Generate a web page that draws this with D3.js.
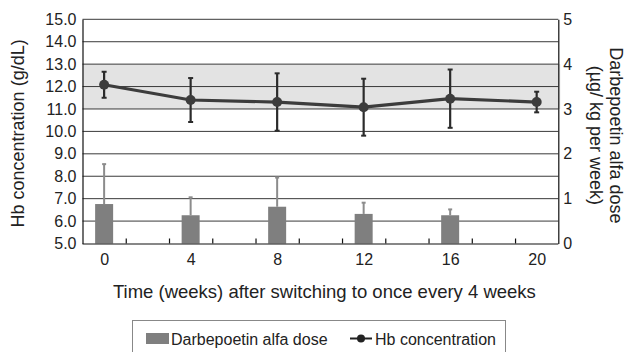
<!DOCTYPE html>
<html>
<head>
<meta charset="utf-8">
<script src="https://cdn.jsdelivr.net/npm/d3@7"></script>
<style>
  html, body { margin: 0; padding: 0; background: #fff; }
  svg { display: block; font-family: "Liberation Sans", Arial, Helvetica, sans-serif; }
</style>
</head>
<body>
<svg id="chart" width="625" height="352"></svg>
<script>
// Study weeks after switching to dosing once every 4 weeks
const weeks = [0, 4, 8, 12, 16, 20];
const hbMean = [12.08, 11.40, 11.31, 11.08, 11.46, 11.31];   // g/dL
const hbSD   = [0.58, 0.98, 1.28, 1.27, 1.30, 0.46];
const doseWeeks = [0, 4, 8, 12, 16];
const doseMean  = [0.88, 0.63, 0.82, 0.66, 0.63];           // µg/kg per week
const doseSD    = [0.89, 0.40, 0.65, 0.25, 0.13];
const hbTicks   = [5, 6, 7, 8, 9, 10, 11, 12, 13, 14, 15];
const doseTicks = [0, 1, 2, 3, 4, 5];
const weekLabels = [0, 4, 8, 12, 16, 20];
const targetRange = [11, 13];

const svg = d3.select("#chart");
const plot = { left: 82.5, right: 558.3, top: 19.3, bottom: 243.5 };

const x = d3.scaleLinear().domain([-1, 21]).range([plot.left, plot.right]);
const yHb = d3.scaleLinear().domain([5, 15]).range([plot.bottom, plot.top]);
const yDose = d3.scaleLinear().domain([0, 5]).range([plot.bottom, plot.top]);

// target Hb band
svg.append("rect")
  .attr("x", plot.left).attr("width", plot.right - plot.left + 2)
  .attr("y", yHb(targetRange[1])).attr("height", yHb(targetRange[0]) - yHb(targetRange[1]))
  .attr("fill", "#e3e3e3");

// horizontal gridlines
svg.append("g").selectAll("line")
  .data(hbTicks.filter(d => d > 5))
  .join("line")
  .attr("x1", plot.left).attr("x2", plot.right)
  .attr("y1", d => yHb(d)).attr("y2", d => yHb(d))
  .attr("stroke", "#3a3a3a").attr("stroke-width", 1);

// dose bars with upper SD whiskers
const doseData = doseWeeks.map((w, i) => ({ w, m: doseMean[i], sd: doseSD[i] }));
const barW = 18;
const gDose = svg.append("g");
gDose.selectAll("line.err")
  .data(doseData).join("line").attr("class", "err")
  .attr("x1", d => x(d.w)).attr("x2", d => x(d.w))
  .attr("y1", d => yDose(d.m)).attr("y2", d => yDose(d.m + d.sd))
  .attr("stroke", "#8c8c8c").attr("stroke-width", 2);
gDose.selectAll("line.cap")
  .data(doseData).join("line").attr("class", "cap")
  .attr("x1", d => x(d.w) - 2).attr("x2", d => x(d.w) + 2)
  .attr("y1", d => yDose(d.m + d.sd)).attr("y2", d => yDose(d.m + d.sd))
  .attr("stroke", "#8c8c8c").attr("stroke-width", 2);
gDose.selectAll("rect")
  .data(doseData).join("rect")
  .attr("x", d => x(d.w) - barW / 2).attr("width", barW)
  .attr("y", d => yDose(d.m)).attr("height", d => yDose(0) - yDose(d.m))
  .attr("fill", "#7f7f7f");

// axes
const axisStyle = g => {
  g.selectAll(".domain").attr("stroke", "#111").attr("stroke-width", 1.2);
  g.selectAll(".tick line").attr("stroke", "#111").attr("stroke-width", 1.2);
  g.selectAll("text").attr("fill", "#222").attr("font-size", 16)
    .attr("font-family", "'Liberation Sans', Arial, sans-serif");
};

svg.append("g")
  .attr("transform", `translate(${plot.left},0)`)
  .call(d3.axisLeft(yHb).tickValues(hbTicks).tickFormat(d3.format(".1f")).tickSize(0).tickPadding(6))
  .call(axisStyle);

svg.append("g")
  .attr("transform", `translate(${plot.right},0)`)
  .call(d3.axisRight(yDose).tickValues(doseTicks).tickFormat(d3.format("d")).tickSize(0).tickPadding(5))
  .call(axisStyle);

// inner minor ticks along the time axis
svg.append("g")
  .attr("transform", `translate(0,${plot.bottom})`)
  .call(d3.axisBottom(x).tickValues(d3.range(1, 20, 2)).tickSize(-5).tickFormat(""))
  .call(axisStyle)
  .call(g => g.select(".domain").attr("d", `M${plot.left},0.5H${plot.right}`));

// week labels
svg.append("g")
  .attr("transform", `translate(0,${plot.bottom})`)
  .call(d3.axisBottom(x).tickValues(weekLabels).tickSize(0).tickPadding(10).tickFormat(d3.format("d")))
  .call(axisStyle)
  .call(g => g.select(".domain").remove());

// Hb line with SD bars
const hbData = weeks.map((w, i) => ({ w, m: hbMean[i], sd: hbSD[i] }));
const gHb = svg.append("g");
gHb.selectAll("line.err")
  .data(hbData).join("line").attr("class", "err")
  .attr("x1", d => x(d.w)).attr("x2", d => x(d.w))
  .attr("y1", d => yHb(d.m - d.sd)).attr("y2", d => yHb(d.m + d.sd))
  .attr("stroke", "#2b2b2b").attr("stroke-width", 2.2);
[-1, 1].forEach(s => {
  gHb.selectAll(null)
    .data(hbData).join("line")
    .attr("x1", d => x(d.w) - 2.5).attr("x2", d => x(d.w) + 2.5)
    .attr("y1", d => yHb(d.m + s * d.sd)).attr("y2", d => yHb(d.m + s * d.sd))
    .attr("stroke", "#2b2b2b").attr("stroke-width", 2);
});
gHb.append("path")
  .datum(hbData)
  .attr("d", d3.line().x(d => x(d.w)).y(d => yHb(d.m)))
  .attr("fill", "none").attr("stroke", "#3c3c3c").attr("stroke-width", 3.2);
gHb.selectAll("circle")
  .data(hbData).join("circle")
  .attr("cx", d => x(d.w)).attr("cy", d => yHb(d.m)).attr("r", 5)
  .attr("fill", "#3c3c3c");

// axis titles
svg.append("text")
  .attr("transform", `translate(24,${(plot.top + plot.bottom) / 2 + 2}) rotate(-90)`)
  .attr("text-anchor", "middle").attr("font-size", 18).attr("fill", "#222")
  .text("Hb concentration (g/dL)");

const rt = svg.append("text")
  .attr("transform", `translate(610,${(plot.top + plot.bottom) / 2 + 4}) rotate(90)`)
  .attr("text-anchor", "middle").attr("font-size", 18).attr("fill", "#222");
rt.append("tspan").attr("x", 0).attr("dy", 0).text("Darbepoetin alfa dose");
rt.append("tspan").attr("x", 0).attr("dy", 20).text("(µg/ kg per week)");

svg.append("text")
  .attr("x", (plot.left + plot.right) / 2 + 4).attr("y", 298)
  .attr("text-anchor", "middle").attr("font-size", 18.5).attr("fill", "#222")
  .text("Time (weeks) after switching to once every 4 weeks");

// legend
const lg = svg.append("g");
lg.append("rect").attr("x", 132.5).attr("y", 320.5).attr("width", 373).attr("height", 40)
  .attr("fill", "#fff").attr("stroke", "#888").attr("stroke-width", 1);
lg.append("rect").attr("x", 146).attr("y", 333).attr("width", 23).attr("height", 11).attr("fill", "#7f7f7f");
lg.append("text").attr("x", 171).attr("y", 345).attr("font-size", 16).attr("fill", "#222")
  .text("Darbepoetin alfa dose");
lg.append("line").attr("x1", 350).attr("x2", 372).attr("y1", 338.5).attr("y2", 338.5)
  .attr("stroke", "#222").attr("stroke-width", 2);
lg.append("circle").attr("cx", 361).attr("cy", 338.5).attr("r", 4).attr("fill", "#222");
lg.append("text").attr("x", 375).attr("y", 345).attr("font-size", 16).attr("fill", "#222")
  .text("Hb concentration");
</script>
</body>
</html>
